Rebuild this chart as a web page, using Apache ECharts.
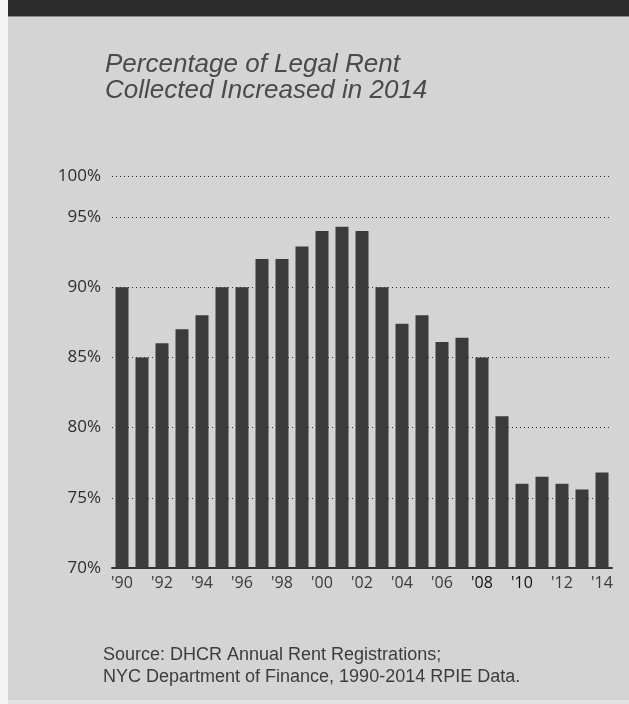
<!DOCTYPE html>
<html>
<head>
<meta charset="utf-8">
<script src="https://cdn.jsdelivr.net/npm/echarts@6/dist/echarts.min.js"></script>
<style>
html,body{margin:0;padding:0;background:#fff;}
#c{width:629px;height:704px;}
</style>
</head>
<body>
<div id="c"></div>
<script>
var years = ["'90","'91","'92","'93","'94","'95","'96","'97","'98","'99","'00","'01","'02","'03","'04","'05","'06","'07","'08","'09","'10","'11","'12","'13","'14"];
var pctCollected = [90.0,85.0,86.0,87.0,88.0,90.0,90.0,92.0,92.0,92.9,94.0,94.3,94.0,90.0,87.4,88.0,86.1,86.4,85.0,80.8,76.0,76.5,76.0,75.6,76.8];
var yTickLabels = ["70%","75%","80%","85%","90%","95%","100%"];
var boldYears = ["'08","'10"];
var titleText = "Percentage of Legal Rent\nCollected Increased in 2014";
var sourceText = "Source: DHCR Annual Rent Registrations;\nNYC Department of Finance, 1990-2014 RPIE Data.";

var chart = echarts.init(document.getElementById('c'), null, {renderer:'canvas'});
chart.setOption({
  backgroundColor: '#d4d4d5',
  animation: false,
  title: {
    text: titleText,
    left: 100, top: 47,
    textStyle: {fontFamily:'Liberation Sans', fontStyle:'italic', fontWeight:'normal', fontSize:26, lineHeight:26, color:'#4a4a4b'}
  },
  graphic: [
    {type:'rect', shape:{x:0,y:0,width:8,height:704}, style:{fill:'#f4f4f4'}},
    {type:'rect', shape:{x:8,y:0,width:621,height:16}, style:{fill:'#2c2c2d'}},
    {type:'rect', shape:{x:8,y:16,width:621,height:1}, style:{fill:'#8a8a8a'}},
    {type:'rect', shape:{x:8,y:700,width:621,height:4}, style:{fill:'#e2e2e2'}},
    {type:'text', left:103, top:644, style:{text:sourceText, fontFamily:'Liberation Sans', fontSize:18, lineHeight:22, fill:'#3c3c3c'}}
  ],
  grid: {left:112, right:17, top:176, bottom:136},
  xAxis: {
    type:'category', data: years,
    axisLine:{show:true, lineStyle:{color:'#333', width:2}},
    axisTick:{show:false},
    axisLabel:{interval:1, margin:7, fontFamily:'Open Sans', fontSize:16, color:'#3a3a3a',
      formatter:function(v){ return boldYears.indexOf(v)>=0 ? '{b|'+v+'}' : v; },
      rich:{b:{fontFamily:'Open Sans', fontSize:16, color:'#111'}}}
  },
  yAxis: {
    type:'value', min:70, max:97.92, interval:5,
    axisLine:{show:false}, axisTick:{show:false},
    axisLabel:{margin:11, fontFamily:'Open Sans', fontSize:17, color:'#2e2e2e',
      formatter:function(v, i){ return yTickLabels[i]; }},
    splitLine:{show:true, lineStyle:{type:[1,3], color:'#2e2e2e', width:1}}
  },
  series: [{
    type:'bar', data: pctCollected, barWidth:13,
    itemStyle:{color:'#3b3b3d'}
  }]
});
</script>
</body>
</html>
